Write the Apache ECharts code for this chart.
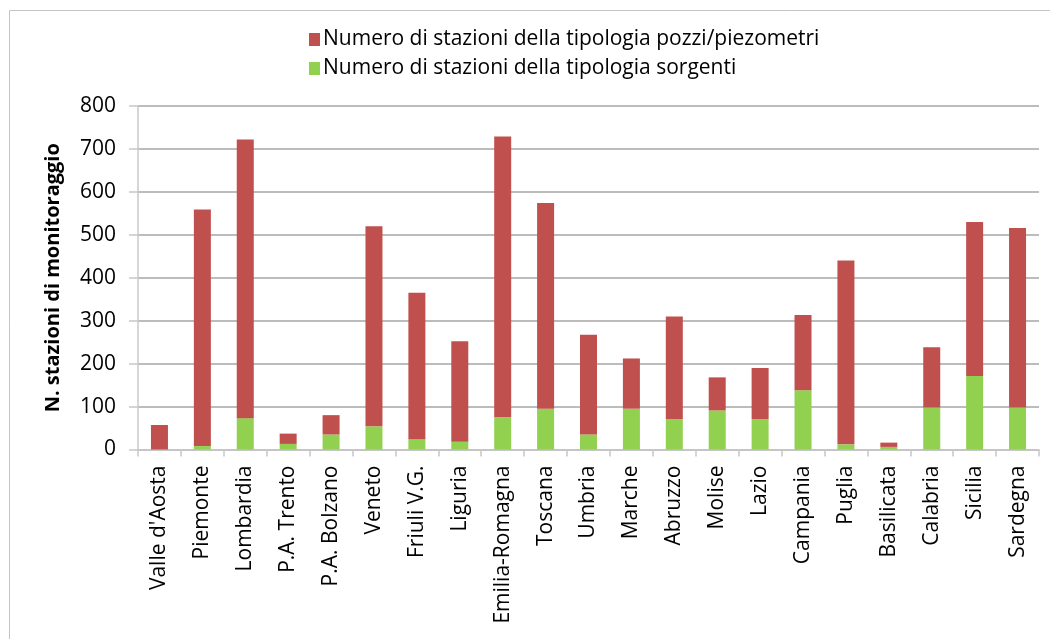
<!DOCTYPE html>
<html>
<head>
<meta charset="utf-8">
<script src="https://cdn.jsdelivr.net/npm/echarts@6/dist/echarts.min.js"></script>
<style>
html,body{margin:0;padding:0;background:#fff;}
#chart{width:1050px;height:639px;}
</style>
</head>
<body>
<div id="chart"></div>
<script>
const categories = ["Valle d'Aosta","Piemonte","Lombardia","P.A. Trento","P.A. Bolzano","Veneto","Friuli V.G.","Liguria","Emilia-Romagna","Toscana","Umbria","Marche","Abruzzo","Molise","Lazio","Campania","Puglia","Basilicata","Calabria","Sicilia","Sardegna"];
const sorgenti = [0, 8, 73, 13, 35, 54, 24, 18, 75, 95, 35, 95, 71, 91, 71, 138, 12, 6, 98, 171, 98];
const pozzi = [57, 551, 649, 24, 45, 466, 341, 234, 654, 479, 232, 117, 239, 77, 119, 175, 428, 10, 140, 359, 418];
const yTicks = [0, 100, 200, 300, 400, 500, 600, 700, 800];
const seriesNames = ["Numero di stazioni della tipologia pozzi/piezometri", "Numero di stazioni della tipologia sorgenti"];

const FONT = '"Open Sans", "Noto Sans", sans-serif';
const chart = echarts.init(document.getElementById('chart'), null, {renderer: 'canvas'});
chart.setOption({
  animation: false,
  backgroundColor: '#ffffff',
  textStyle: {fontFamily: FONT, color: '#000'},
  graphic: [{
    type: 'rect',
    shape: {x: 9.5, y: 10.5, width: 1200, height: 800},
    style: {fill: 'none', stroke: '#c4c4c4', lineWidth: 1},
    silent: true
  }],
  legend: {
    orient: 'vertical',
    left: 304,
    top: 24,
    itemWidth: 11,
    itemHeight: 13,
    itemGap: 8,
    icon: 'rect',
    data: [seriesNames[0], seriesNames[1]],
    textStyle: {fontFamily: FONT, fontSize: 21, color: '#000', padding: [0, 0, 0, -2]}
  },
  grid: {left: 138, right: 11, top: 106, bottom: 189.5, containLabel: false},
  xAxis: {
    type: 'category',
    data: categories,
    boundaryGap: true,
    axisLine: {show: true, lineStyle: {color: '#c8c8c8', width: 1.5}},
    axisTick: {show: true, length: 7, lineStyle: {color: '#c8c8c8', width: 1.5}},
    axisLabel: {rotate: 90, interval: 0, margin: 16, fontFamily: FONT, fontSize: 21, color: '#000'}
  },
  yAxis: {
    type: 'value',
    min: yTicks[0],
    max: yTicks[yTicks.length - 1],
    interval: 100,
    name: 'N. stazioni di monitoraggio',
    nameLocation: 'middle',
    nameRotate: 90,
    nameGap: 75,
    nameTextStyle: {fontFamily: FONT, fontSize: 20, fontWeight: 'bold', color: '#000'},
    axisLine: {show: true, lineStyle: {color: '#c8c8c8', width: 1.5}},
    axisTick: {show: true, inside: false, length: 9, lineStyle: {color: '#c8c8c8', width: 1.5}},
    axisLabel: {margin: 22, fontFamily: FONT, fontSize: 21, color: '#000'},
    splitLine: {show: true, lineStyle: {color: '#a6a6a6', width: 1.5}}
  },
  series: [
    {
      name: seriesNames[1],
      type: 'bar',
      stack: 'tot',
      data: sorgenti,
      barWidth: 17,
      itemStyle: {color: '#92D050'}
    },
    {
      name: seriesNames[0],
      type: 'bar',
      stack: 'tot',
      data: pozzi,
      barWidth: 17,
      itemStyle: {color: '#C0504D'}
    }
  ]
});
</script>
</body>
</html>
